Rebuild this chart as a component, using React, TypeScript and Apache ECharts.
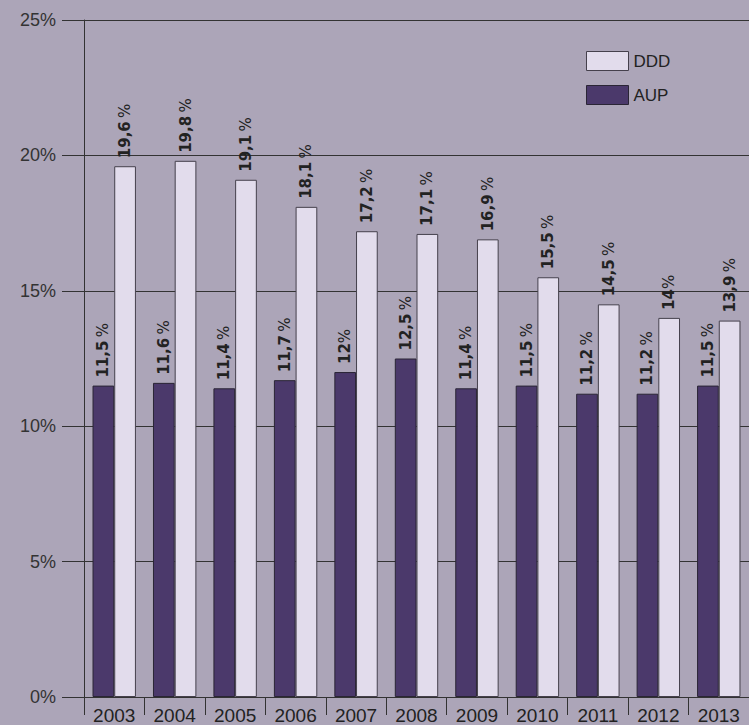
import React, { useEffect, useRef } from "react";
import * as echarts from "echarts";

const categories = ["2003", "2004", "2005", "2006", "2007", "2008", "2009", "2010", "2011", "2012", "2013"];
const aupValues = [11.5, 11.6, 11.4, 11.7, 12, 12.5, 11.4, 11.5, 11.2, 11.2, 11.5];
const dddValues = [19.6, 19.8, 19.1, 18.1, 17.2, 17.1, 16.9, 15.5, 14.5, 14, 13.9];
const yTicks = [0, 5, 10, 15, 20, 25];

const fmt = (p: any) => {
  const v: number = p.value;
  const s = String(v).replace(".", ",");
  return Number.isInteger(v) ? `{v|${s}}{p|%}` : `{v|${s}} {p|%}`;
};

const labelCfg = {
  show: true,
  position: "top",
  rotate: 90,
  align: "left",
  verticalAlign: "middle",
  distance: 8,
  formatter: fmt,
  rich: {
    v: { fontFamily: "DejaVu Sans", fontWeight: "bold", fontSize: 15, color: "#222" },
    p: { fontFamily: "DejaVu Sans", fontWeight: "normal", fontSize: 15, color: "#222" },
  },
};

export default function App() {
  const ref = useRef<HTMLDivElement>(null);
  useEffect(() => {
    const chart = echarts.init(ref.current!, undefined, { renderer: "svg" });
    chart.setOption({
      animation: false,
      backgroundColor: "#aca5b8",
      textStyle: { fontFamily: "Liberation Sans" },
      legend: {
        data: ["DDD", "AUP"],
        orient: "vertical",
        left: 586,
        top: 51,
        padding: 0,
        itemWidth: 42,
        itemHeight: 19,
        itemGap: 14,
        icon: "rect",
        textStyle: { fontSize: 17, color: "#222", fontFamily: "Liberation Sans" },
        itemStyle: { borderWidth: 1 },
      },
      grid: { left: 84, width: 671, top: 20, bottom: 22, containLabel: false },
      xAxis: {
        type: "category",
        data: categories,
        boundaryGap: true,
        axisLine: { show: true, lineStyle: { color: "#333", width: 1 } },
        axisTick: { show: true, length: 18, lineStyle: { color: "#333" }, alignWithLabel: false },
        axisLabel: { fontSize: 19, color: "#222", margin: 9, fontFamily: "Liberation Sans" },
      },
      yAxis: {
        type: "value",
        min: yTicks[0],
        max: yTicks[yTicks.length - 1],
        interval: 5,
        axisLine: { show: true, lineStyle: { color: "#333", width: 1 } },
        axisTick: { show: true, length: 22, lineStyle: { color: "#333" } },
        axisLabel: { fontSize: 18, color: "#333", margin: 28, fontFamily: "Liberation Sans", formatter: (v: number) => `${v}%` },
        splitLine: { show: true, lineStyle: { color: "#333", width: 1 } },
      },
      series: [
        {
          name: "AUP",
          type: "bar",
          data: aupValues,
          barWidth: 21.7,
          barGap: "0%",
          itemStyle: { color: "#4b396b", borderColor: "#2a2535", borderWidth: 1 },
          label: labelCfg,
        },
        {
          name: "DDD",
          type: "bar",
          data: dddValues,
          barWidth: 21.7,
          barGap: "0%",
          itemStyle: { color: "#e2dcec", borderColor: "#45404c", borderWidth: 1 },
          label: labelCfg,
        },
      ],
    });
    return () => chart.dispose();
  }, []);
  return (
    <div
      ref={ref}
      style={{ position: "fixed", left: 0, top: 0, width: 749, height: 725 }}
    />
  );
}
